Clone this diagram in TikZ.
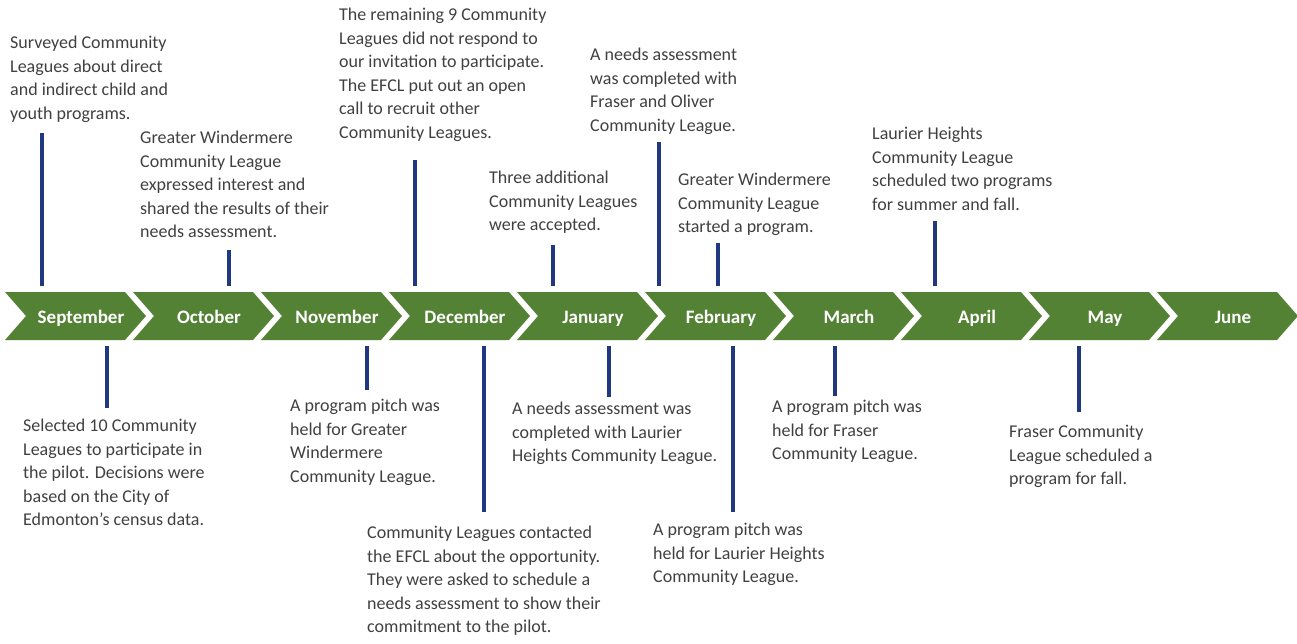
\documentclass[tikz,border=0pt]{standalone}
\usepackage{fontspec}
\setmainfont{Carlito}
\usetikzlibrary{calc}
\definecolor{chevgreen}{RGB}{84,130,53}
\definecolor{ticknavy}{RGB}{32,56,128}
\definecolor{notegray}{RGB}{64,64,64}

\begin{document}
\begin{tikzpicture}[x=1pt, y=-1pt,
    month/.style={text=white, font=\fontsize{19}{22}\selectfont\bfseries, text height=14pt, text depth=0pt, minimum width=100pt, minimum height=48pt, inner sep=0pt, outer sep=6pt},
    note/.style={anchor=north west, align=left, inner sep=0pt, text=notegray, font=\fontsize{18}{23.5}\selectfont},
    tick/.style={ticknavy, line width=3.5pt}]

    \useasboundingbox (0,0) rectangle (1297,643);

    % chevron row
    \foreach \m [count=\i from 0] in {September,October,November,December,January,February,March,April,May,June}{
        \fill[chevgreen] (5+128*\i,292) -- ++(120,0) -- ++(21,24) -- ++(-21,24) -- ++(-120,0) -- ++(21,-24) -- cycle;
        \node[month] (m\i) at (81+128*\i,316) {\m};
    }

    % above the row
    \node[note] (t1) at (10,36) {Surveyed Community\\Leagues about direct\\and indirect child and\\youth programs.};
    \node[note] (t2) at (140,131) {Greater Windermere\\Community League\\expressed interest and\\shared the results of their\\needs assessment.};
    \node[note] (t3) at (339,8) {The remaining 9 Community\\Leagues did not respond to\\our invitation to participate.\\The EFCL put out an open\\call to recruit other\\Community Leagues.};
    \node[note] (t4) at (489,171) {Three additional\\Community Leagues\\were accepted.};
    \node[note] (t5) at (590,48) {A needs assessment\\was completed with\\Fraser and Oliver\\Community League.};
    \node[note] (t6) at (678,173) {Greater Windermere\\Community League\\started a program.};
    \node[note] (t7) at (872,127) {Laurier Heights\\Community League\\scheduled two programs\\for summer and fall.};

    \coordinate (a1) at (42,133);
    \coordinate (a2) at (229,250);
    \coordinate (a3) at (415,160);
    \coordinate (a4) at (553,245);
    \coordinate (a5) at (659,142);
    \coordinate (a6) at (718,243);
    \coordinate (a7) at (935,221);

    \draw[tick] (a1) -- (a1 |- m0.north);
    \draw[tick] (a2) -- (a2 |- m1.north);
    \draw[tick] (a3) -- (a3 |- m3.north);
    \draw[tick] (a4) -- (a4 |- m4.north);
    \draw[tick] (a5) -- (a5 |- m5.north);
    \draw[tick] (a6) -- (a6 |- m5.north);
    \draw[tick] (a7) -- (a7 |- m7.north);

    % below the row
    \node[note] (b1) at (23,419) {Selected 10 Community\\Leagues to participate in\\the pilot. Decisions were\\based on the City of\\Edmonton’s census data.};
    \node[note] (b2) at (290,399) {A program pitch was\\held for Greater\\Windermere\\Community League.};
    \node[note] (b3) at (367,526) {Community Leagues contacted\\the EFCL about the opportunity.\\They were asked to schedule a\\needs assessment to show their\\commitment to the pilot.};
    \node[note] (b4) at (512,402) {A needs assessment was\\completed with Laurier\\Heights Community League.};
    \node[note] (b5) at (653,523) {A program pitch was\\held for Laurier Heights\\Community League.};
    \node[note] (b6) at (772,400) {A program pitch was\\held for Fraser\\Community League.};
    \node[note] (b7) at (1009,425) {Fraser Community\\League scheduled a\\program for fall.};

    \coordinate (c1) at (107,408);
    \coordinate (c2) at (367,390);
    \coordinate (c3) at (484,512);
    \coordinate (c4) at (609,397);
    \coordinate (c5) at (733,512);
    \coordinate (c6) at (835,396);
    \coordinate (c7) at (1079,412);

    \draw[tick] (m0.south -| c1) -- (c1);
    \draw[tick] (m2.south -| c2) -- (c2);
    \draw[tick] (m3.south -| c3) -- (c3);
    \draw[tick] (m4.south -| c4) -- (c4);
    \draw[tick] (m5.south -| c5) -- (c5);
    \draw[tick] (m6.south -| c6) -- (c6);
    \draw[tick] (m8.south -| c7) -- (c7);
\end{tikzpicture}
\end{document}
